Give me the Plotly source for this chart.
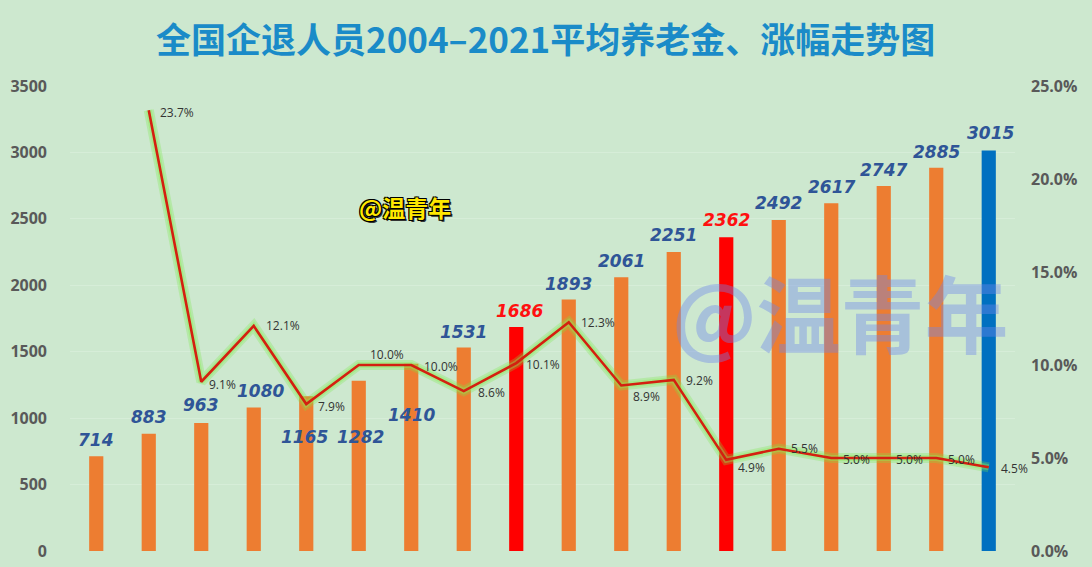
import plotly.graph_objects as go

# ---- data ----
years = [str(y) for y in range(2004, 2022)]
pension = [714, 883, 963, 1080, 1165, 1282, 1410, 1531, 1686, 1893,
           2061, 2251, 2362, 2492, 2617, 2747, 2885, 3015]
growth_years = years[1:]
growth = [0.237, 0.091, 0.121, 0.079, 0.100, 0.100, 0.086, 0.101, 0.123,
          0.089, 0.092, 0.049, 0.055, 0.050, 0.050, 0.050, 0.045]
left_ticks = [0, 500, 1000, 1500, 2000, 2500, 3000, 3500]
right_ticks = [0, 0.05, 0.10, 0.15, 0.20, 0.25]
title = "全国企退人员2004–2021平均养老金、涨幅走势图"
watermark = "@温青年"

# ---- styles ----
ORANGE, RED, BLUE = "#ED7D31", "#FF0000", "#0070C0"
bar_colors = [ORANGE] * 18
bar_colors[8] = RED
bar_colors[12] = RED
bar_colors[17] = BLUE
label_colors = ["#2F5597"] * 18
label_colors[8] = "#FF1010"
label_colors[12] = "#FF1010"
# pixel offsets of value labels relative to bar tops
val_shift = [16, 17, 18, 17, -41, -56, -51, 16, 16, 16, 16, 17, 17, 17, 16, 16, 16, 17]
val_xshift = [0, 0, 0, 7, -2, 2, 0, 0, 3, 0, 0, 0, 0, 0, 0, 0, 0, 2]
# pixel offsets of percentage labels relative to points
pct_xshift = [9, 6, 10, 10, 9, 11, 12, 8, 10, 10, 10, 10, 10, 10, 10, 10, 10]
pct_yshift = [-2, -3, 0, -2, 11, -1, -1, -1, 0, -11, -1, -8, 0, -1, -1, -1, -1]

BG = "#CDE8CF"
W, H = 1092, 567
ML, MR, MT, MB = 70, 77, 86, 16

fig = go.Figure()
fig.add_trace(go.Bar(
    x=years, y=pension, marker=dict(color=bar_colors, line=dict(width=0)),
    width=0.27, yaxis="y", hoverinfo="skip", showlegend=False))
# glow under the line
fig.add_trace(go.Scatter(
    x=growth_years, y=growth, yaxis="y2", mode="lines",
    line=dict(color="rgba(120,235,70,0.28)", width=10),
    hoverinfo="skip", showlegend=False))
fig.add_trace(go.Scatter(
    x=growth_years, y=growth, yaxis="y2", mode="lines",
    line=dict(color="rgba(140,240,90,0.38)", width=6),
    hoverinfo="skip", showlegend=False))
fig.add_trace(go.Scatter(
    x=growth_years, y=growth, yaxis="y2", mode="lines",
    line=dict(color="#D42010", width=2.6),
    hoverinfo="skip", showlegend=False))

annotations = []
for i, v in enumerate(pension):
    annotations.append(dict(
        x=i, y=v, xref="x", yref="y", text=str(v), showarrow=False,
        xanchor="center", yanchor="middle", yshift=val_shift[i], xshift=val_xshift[i],
        font=dict(family="DejaVu Sans", size=17, color=label_colors[i],
                  weight="bold", style="italic")))
for i, g in enumerate(growth):
    annotations.append(dict(
        x=i + 1, y=g, xref="x", yref="y2", text=f"{g*100:.1f}%", showarrow=False,
        xanchor="left", yanchor="middle", xshift=pct_xshift[i], yshift=pct_yshift[i],
        font=dict(family="Open Sans", size=12, color="#333333")))

plot_w = W - ML - MR
plot_h = H - MT - MB
def px_to_paper(px, py):
    return (px - ML) / plot_w, (H - MB - py) / plot_h

tx, ty = px_to_paper(545, 38)
annotations.append(dict(
    x=tx, y=ty, xref="paper", yref="paper", text=title, showarrow=False,
    xanchor="center", yanchor="middle",
    font=dict(family="Noto Sans CJK SC", size=35, color="#1A8BC8", weight="bold")))
sx, sy = px_to_paper(405, 207)
annotations.append(dict(
    x=sx, y=sy, xref="paper", yref="paper", text=watermark, showarrow=False,
    xanchor="center", yanchor="middle",
    font=dict(family="Noto Sans CJK SC", size=23, color="#FFE800", weight="bold",
              shadow="1px 1px 0 #000, -1px -1px 0 #000, 1px -1px 0 #000, -1px 1px 0 #000, 2px 2px 0 #333")))
bx, by = px_to_paper(840, 310)
annotations.append(dict(
    x=bx, y=by, xref="paper", yref="paper", text=watermark, showarrow=False,
    xanchor="center", yanchor="middle",
    font=dict(family="Noto Sans CJK SC", size=84, color="rgba(110,135,235,0.40)",
              weight="bold")))

fig.update_layout(
    width=W, height=H,
    margin=dict(l=ML, r=MR, t=MT, b=MB, autoexpand=False),
    paper_bgcolor=BG, plot_bgcolor=BG,
    showlegend=False,
    annotations=annotations,
    xaxis=dict(type="category", showticklabels=False, showgrid=False, automargin=False,
               zeroline=False, showline=False, ticks="", range=[-0.5, 17.5]),
    yaxis=dict(range=[0, 3500], tickvals=left_ticks, showgrid=True, automargin=False,
               gridcolor="#D6EDD8", gridwidth=1, zeroline=False, showline=False,
               ticks="", ticklabelstandoff=22,
               tickfont=dict(family="Open Sans", size=16, color="#595959", weight="bold")),
    yaxis2=dict(range=[0, 0.25], tickvals=right_ticks, tickformat=".1%", automargin=False,
                overlaying="y", side="right", showgrid=False, zeroline=False,
                showline=False, ticks="", ticklabelstandoff=15,
                tickfont=dict(family="Open Sans", size=16, color="#595959", weight="bold")),
)

fig.write_html("out.html", config={"displayModeBar": False},
               post_script="document.body.style.margin='0';document.body.style.background='" + BG + "';")
